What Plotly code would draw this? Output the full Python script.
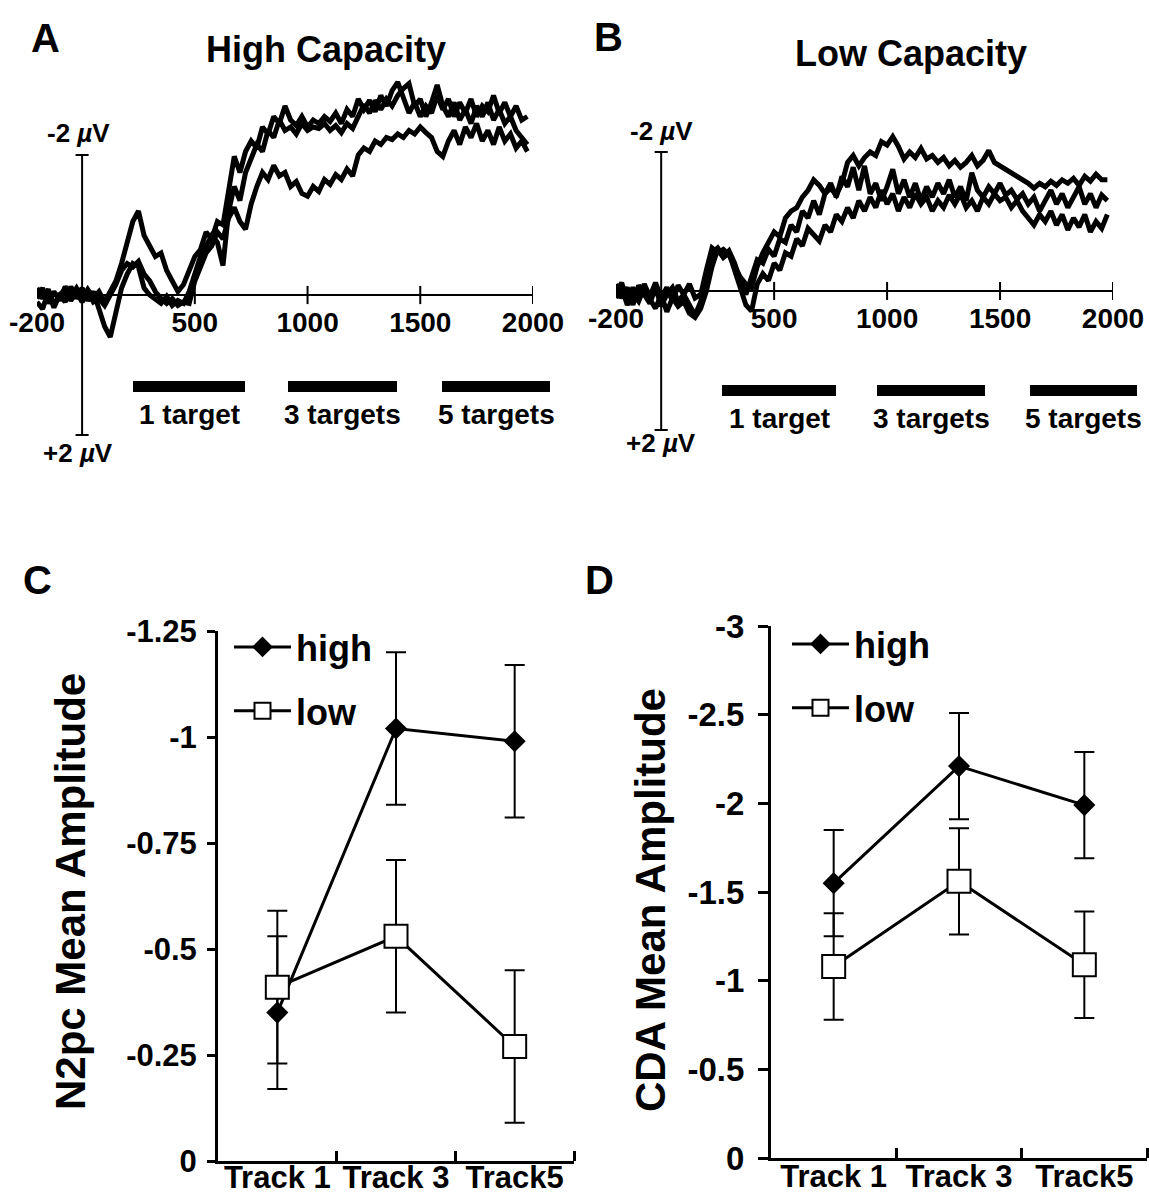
import plotly.graph_objects as go

W, H = 1149, 1197
FONT = "Liberation Sans"


def fx(px):
    return px / W


def fy(py):
    return 1 - py / H


def bold(labels):
    return ["<b>%s</b>" % s for s in labels]


# ---------------- ERP waveforms (contralateral - ipsilateral, microvolts) ----------------
time_ms = list(range(-200, 2000, 25))

high_1 = [0.05, -0.10, 0.12, -0.05, 0.08, -0.12, 0.02, -0.10, 0.05, -0.08, 0.04, -0.05,
          0.10, -0.05, -0.20, -0.45, -0.75, -1.05, -1.20, -0.85, -0.70, -0.55, -0.60, -0.35,
          -0.20, -0.05, -0.15, -0.35, -0.55, -0.65, -0.90, -0.80, -1.05, -1.00, -1.45, -1.98,
          -1.75, -2.05, -2.20, -2.10, -2.40, -2.30, -2.55, -2.45, -2.70, -2.50, -2.42, -2.55,
          -2.40, -2.50, -2.45, -2.55, -2.48, -2.60, -2.45, -2.65, -2.55, -2.80, -2.65, -2.78,
          -2.62, -2.85, -2.70, -2.92, -3.04, -2.80, -2.60, -2.75, -2.55, -2.70, -2.60, -2.85,
          -2.65, -2.80, -2.55, -2.75, -2.60, -2.80, -2.55, -2.70, -2.62, -2.85, -2.60, -2.75,
          -2.55, -2.70, -2.50, -2.55]
high_3 = [-0.10, 0.05, -0.08, 0.15, -0.02, 0.10, -0.12, 0.05, -0.10, 0.08, -0.05, 0.20,
          0.45, 0.60, 0.25, -0.10, -0.30, -0.45, -0.40, -0.10, 0.00, 0.05, 0.12, 0.02,
          0.15, 0.08, 0.12, -0.05, -0.30, -0.55, -0.70, -0.85, -0.75, -0.42, -1.20, -1.55,
          -1.35, -1.75, -1.95, -2.15, -2.05, -2.35, -2.25, -2.50, -2.35, -2.40, -2.30, -2.45,
          -2.35, -2.40, -2.38, -2.45, -2.35, -2.42, -2.32, -2.45, -2.38, -2.55, -2.72, -2.60,
          -2.78, -2.65, -2.80, -2.70, -2.85, -2.95, -3.02, -2.70, -2.80, -2.55, -2.75, -3.00,
          -2.70, -2.55, -2.75, -2.50, -2.65, -2.45, -2.70, -2.55, -2.75, -2.50, -2.65, -2.45,
          -2.55, -2.35, -2.25, -2.15]
high_5 = [0.10, 0.20, -0.05, 0.18, 0.00, -0.08, 0.08, -0.05, 0.10, -0.05, 0.10, 0.05,
          0.15, 0.00, -0.15, -0.35, -0.45, -0.40, -0.48, -0.30, -0.20, -0.05, 0.05, 0.12,
          0.05, 0.15, 0.10, 0.12, -0.20, -0.40, -0.60, -0.70, -0.90, -0.80, -1.10, -1.25,
          -1.05, -0.94, -1.30, -1.55, -1.75, -1.65, -1.85, -1.70, -1.75, -1.55, -1.62, -1.45,
          -1.41, -1.55, -1.48, -1.65, -1.58, -1.72, -1.65, -1.80, -1.70, -2.00, -2.10, -2.05,
          -2.20, -2.15, -2.25, -2.22, -2.30, -2.25, -2.35, -2.30, -2.40, -2.32, -2.25, -2.05,
          -1.98, -2.20, -2.35, -2.15, -2.40, -2.25, -2.45, -2.20, -2.35, -2.15, -2.40, -2.20,
          -2.30, -2.10, -2.20, -2.05]

low_1 = [0.05, -0.12, 0.15, -0.05, 0.12, -0.10, 0.08, -0.12, 0.10, -0.05, 0.15, -0.08,
         0.05, -0.10, 0.10, 0.05, -0.30, -0.62, -0.55, -0.60, -0.52, -0.35, -0.20, -0.10,
         -0.05, -0.35, -0.55, -0.70, -0.85, -0.78, -1.05, -1.15, -1.20, -1.35, -1.45, -1.60,
         -1.52, -1.40, -1.48, -1.38, -1.55, -1.85, -1.95, -1.80, -1.92, -2.00, -1.95, -2.15,
         -2.10, -2.22, -2.08, -1.90, -2.00, -1.92, -2.05, -1.90, -1.95, -1.85, -1.92, -1.80,
         -1.88, -1.78, -1.85, -1.95, -1.80, -1.88, -2.02, -1.85, -1.80, -1.75, -1.72, -1.65,
         -1.60, -1.55, -1.48, -1.55, -1.50, -1.58, -1.52, -1.60, -1.55, -1.62, -1.52, -1.65,
         -1.58, -1.68, -1.60, -1.60]
low_3 = [-0.10, 0.10, -0.05, 0.20, -0.08, 0.05, 0.18, -0.05, 0.22, 0.05, -0.05, 0.15,
         0.05, 0.20, 0.35, 0.15, -0.20, -0.55, -0.62, -0.50, -0.58, -0.40, -0.15, 0.05,
         -0.20, -0.45, -0.40, -0.60, -0.50, -0.75, -0.70, -0.95, -0.85, -1.15, -1.05, -1.30,
         -1.10, -1.40, -1.55, -1.35, -1.65, -1.50, -1.78, -1.45, -1.80, -1.40, -1.55, -1.30,
         -1.50, -1.75, -1.40, -1.60, -1.35, -1.55, -1.30, -1.50, -1.35, -1.55, -1.40, -1.60,
         -1.35, -1.50, -1.30, -1.70, -1.45, -1.35, -1.50, -1.40, -1.55, -1.38, -1.45, -1.32,
         -1.40, -1.25, -1.35, -1.15, -1.30, -1.45, -1.25, -1.40, -1.20, -1.35, -1.50, -1.25,
         -1.40, -1.20, -1.38, -1.30]
low_5 = [0.10, -0.05, 0.20, 0.05, 0.15, -0.05, 0.12, 0.25, 0.05, 0.30, 0.10, 0.22,
         0.15, 0.32, 0.38, 0.25, 0.00, -0.35, -0.60, -0.48, -0.55, -0.30, -0.05, 0.20,
         0.29, -0.10, -0.25, -0.15, -0.40, -0.30, -0.55, -0.50, -0.75, -0.65, -0.90, -0.80,
         -0.72, -0.95, -0.85, -1.10, -1.00, -1.20, -1.05, -1.30, -1.15, -1.35, -1.20, -1.45,
         -1.25, -1.40, -1.15, -1.35, -1.20, -1.40, -1.25, -1.35, -1.15, -1.30, -1.20, -1.38,
         -1.25, -1.40, -1.20, -1.30, -1.15, -1.35, -1.25, -1.40, -1.30, -1.35, -1.20, -1.30,
         -1.15, -1.05, -0.95, -1.10, -1.00, -1.15, -0.95, -1.10, -0.88, -1.05, -0.92, -1.10,
         -0.85, -1.00, -0.90, -1.10]

conditions = ["1 target", "3 targets", "5 targets"]
time_ticks = [-200, 500, 1000, 1500, 2000]
time_tick_text = ["-200", "500", "1000", "1500", "2000"]

# ---------------- Mean amplitudes by tracking load ----------------
tracks = ["Track 1", "Track 3", "Track5"]
n2pc_high = [-0.35, -1.02, -0.99]
n2pc_high_se = [0.18, 0.18, 0.18]
n2pc_low = [-0.41, -0.53, -0.27]
n2pc_low_se = [0.18, 0.18, 0.18]
cda_high = [-1.55, -2.21, -1.99]
cda_high_se = [0.30, 0.30, 0.30]
cda_low = [-1.08, -1.56, -1.09]
cda_low_se = [0.30, 0.30, 0.30]
n2pc_ticks = [0, -0.25, -0.5, -0.75, -1, -1.25]
n2pc_tick_text = ["0", "-0.25", "-0.5", "-0.75", "-1", "-1.25"]
cda_ticks = [0, -0.5, -1, -1.5, -2, -2.5, -3]
cda_tick_text = ["0", "-0.5", "-1", "-1.5", "-2", "-2.5", "-3"]

fig = go.Figure()

# Waveform panels
for series, xa, ya in [((high_1, high_3, high_5), "x", "y"),
                       ((low_1, low_3, low_5), "x2", "y2")]:
    for name, vals in zip(conditions, series):
        fig.add_trace(go.Scatter(
            x=time_ms, y=vals, mode="lines", name=name, showlegend=False,
            line=dict(color="black", width=5), xaxis=xa, yaxis=ya))

# Amplitude panels
x_idx = list(range(len(tracks)))
for (hi, hi_se, lo, lo_se), xa, ya, leg in [
        ((n2pc_high, n2pc_high_se, n2pc_low, n2pc_low_se), "x3", "y3", "legend"),
        ((cda_high, cda_high_se, cda_low, cda_low_se), "x4", "y4", "legend2")]:
    err = dict(type="data", visible=True, color="black", thickness=2, width=10)
    fig.add_trace(go.Scatter(
        x=x_idx, y=hi, mode="lines+markers", name="<b>high</b>", legend=leg, legendgroup="high",
        line=dict(color="black", width=3),
        marker=dict(symbol="diamond", size=17, color="black", line=dict(width=0)),
        error_y=dict(err, array=hi_se), xaxis=xa, yaxis=ya))
    fig.add_trace(go.Scatter(
        x=x_idx, y=lo, mode="lines+markers", name="<b>low</b>", legend=leg, legendgroup="low",
        line=dict(color="black", width=3),
        marker=dict(symbol="square", size=23, color="white", line=dict(color="black", width=2)),
        error_y=dict(err, array=lo_se), xaxis=xa, yaxis=ya))

time_font = dict(family=FONT, size=28, color="black")
track_font = dict(family=FONT, size=31, color="black")
n2pc_font = dict(family=FONT, size=31, color="black")
cda_font = dict(family=FONT, size=33, color="black")
legend_font = dict(family=FONT, size=36, color="black")

base_axis = dict(showgrid=False, zeroline=False, automargin=False)
track_minor = dict(tickvals=[0.5, 1.5, 2.5], ticks="inside", ticklen=10,
                   tickwidth=3, tickcolor="black", showgrid=False)

layout = dict(
    template="none",
    width=W, height=H, margin=dict(l=0, r=0, t=0, b=0, pad=0, autoexpand=False),
    paper_bgcolor="white", plot_bgcolor="rgba(0,0,0,0)",
    font=dict(family=FONT, color="black"),
    # A
    xaxis=dict(domain=[fx(37), fx(533)], range=[-200, 2000], anchor="free", position=fy(295),
               showline=True, linecolor="black", linewidth=2, ticks="",
               tickvals=time_ticks, ticktext=bold(time_tick_text), tickfont=time_font,
               ticklabelstandoff=2, **base_axis),
    yaxis=dict(domain=[fy(470), fy(60)], range=[(470 - 295) / 70, -(295 - 60) / 70],
               anchor="x", visible=False, **base_axis),
    # B
    xaxis2=dict(domain=[fx(616), fx(1113)], range=[-200, 2000], anchor="free", position=fy(291),
                showline=True, linecolor="black", linewidth=2, ticks="",
                tickvals=time_ticks, ticktext=bold(time_tick_text), tickfont=time_font,
                ticklabelstandoff=2, **base_axis),
    yaxis2=dict(domain=[fy(470), fy(60)], range=[(470 - 291) / 69.5, -(291 - 60) / 69.5],
                anchor="x2", visible=False, **base_axis),
    # C
    xaxis3=dict(domain=[fx(218), fx(574)], range=[-0.5, 2.5], anchor="y3",
                showline=True, linecolor="black", linewidth=3, ticks="",
                tickvals=x_idx, ticktext=bold(tracks), tickfont=track_font,
                ticklabelstandoff=-13, minor=track_minor, **base_axis),
    yaxis3=dict(domain=[fy(1161), fy(631)], range=[0, -1.25], anchor="x3",
                showline=True, linecolor="black", linewidth=3, ticks="outside",
                ticklen=8, tickwidth=3, tickcolor="black",
                tickvals=n2pc_ticks, ticktext=bold(n2pc_tick_text), tickfont=n2pc_font,
                ticklabelstandoff=4, **base_axis),
    # D
    xaxis4=dict(domain=[fx(771), fx(1147)], range=[-0.5, 2.5], anchor="y4",
                showline=True, linecolor="black", linewidth=3, ticks="",
                tickvals=x_idx, ticktext=bold(tracks), tickfont=track_font,
                ticklabelstandoff=-11, minor=track_minor, **base_axis),
    yaxis4=dict(domain=[fy(1158), fy(626)], range=[0, -3], anchor="x4",
                showline=True, linecolor="black", linewidth=3, ticks="outside",
                ticklen=10, tickwidth=3, tickcolor="black",
                tickvals=cda_ticks, ticktext=bold(cda_tick_text), tickfont=cda_font,
                ticklabelstandoff=7, **base_axis),
    legend=dict(x=fx(229), y=fy(617), xanchor="left", yanchor="top",
                bgcolor="rgba(0,0,0,0)", itemwidth=57, tracegroupgap=14,
                traceorder="grouped", font=legend_font),
    legend2=dict(x=fx(787), y=fy(614), xanchor="left", yanchor="top",
                 bgcolor="rgba(0,0,0,0)", itemwidth=57, tracegroupgap=14,
                 traceorder="grouped", font=legend_font),
)
fig.update_layout(**layout)

# Scale bars and crossing ticks on the time axes
shapes = []
for xr, yr in [("x", "y"), ("x2", "y2")]:
    shapes.append(dict(type="line", xref=xr, yref=yr, x0=0, x1=0, y0=-2, y1=2,
                       line=dict(color="black", width=2)))
    for v in (-2, 2):
        shapes.append(dict(type="line", xref=xr, yref=yr, x0=-29, x1=29, y0=v, y1=v,
                           line=dict(color="black", width=2)))
    for t in time_ticks[1:]:
        shapes.append(dict(type="line", xref=xr, yref=yr, x0=t, x1=t, y0=-0.13, y1=0.13,
                           line=dict(color="black", width=2)))

# Condition keys under the waveforms
key_bars = {
    "A": [(133, 245), (288, 397), (442, 550)],
    "B": [(722, 836), (877, 985), (1030, 1137)],
}
key_y = {"A": (381, 392), "B": (385, 396)}
key_label_y = {"A": 414, "B": 418}
annotations = []
for panel in ("A", "B"):
    y0, y1 = key_y[panel]
    for (x0, x1), label in zip(key_bars[panel], conditions):
        shapes.append(dict(type="rect", xref="paper", yref="paper",
                           x0=fx(x0), x1=fx(x1), y0=fy(y1), y1=fy(y0),
                           fillcolor="black", line=dict(width=0)))
        annotations.append(dict(text="<b>%s</b>" % label, xref="paper", yref="paper",
                                x=fx((x0 + x1) / 2), y=fy(key_label_y[panel]),
                                showarrow=False, xanchor="center", yanchor="middle",
                                font=dict(family=FONT, size=28, color="black")))

fig.update_layout(shapes=shapes)


def note(text, x, y, size, angle=0):
    annotations.append(dict(text="<b>%s</b>" % text, xref="paper", yref="paper",
                            x=fx(x), y=fy(y),
                            showarrow=False, xanchor="center", yanchor="middle",
                            textangle=angle,
                            font=dict(family=FONT, size=size, color="black")))


note("A", 45, 38, 40)
note("B", 608, 37, 40)
note("C", 37, 580, 40)
note("D", 599, 580, 40)
note("High Capacity", 326, 49, 36)
note("Low Capacity", 911, 53, 36)
note("-2 <i>µ</i>V", 78, 133, 26)
note("+2 <i>µ</i>V", 78, 453, 26)
note("-2 <i>µ</i>V", 661, 131, 26)
note("+2 <i>µ</i>V", 661, 443, 26)
note("N2pc Mean Amplitude", 70, 892, 42, -90)
note("CDA Mean Amplitude", 650, 900, 42, -90)

fig.update_layout(annotations=annotations)

fig.write_html("out.html")
